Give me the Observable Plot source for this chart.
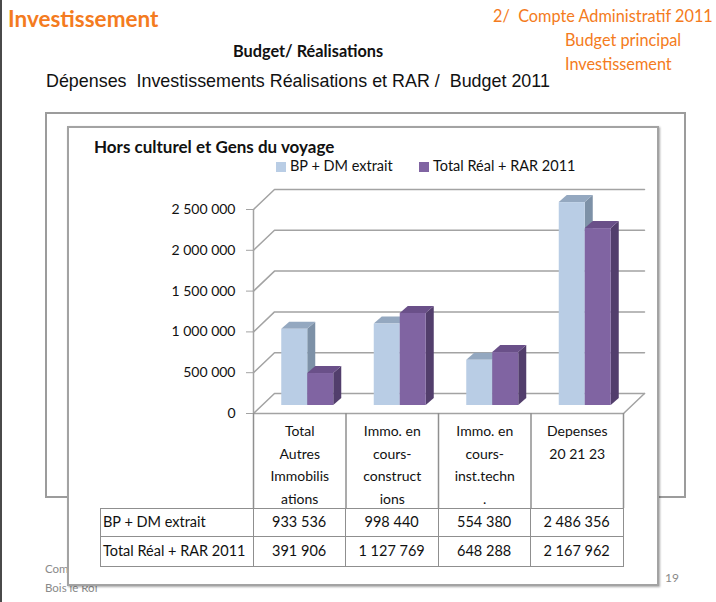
<!DOCTYPE html>
<html><head><meta charset="utf-8">
<script src="https://cdn.jsdelivr.net/npm/d3@7"></script>
<script src="https://cdn.jsdelivr.net/npm/@observablehq/plot@0.6"></script>
<style>
html,body{margin:0;padding:0;}
body{width:716px;height:602px;position:relative;overflow:hidden;background:#fff;font-family:Lato,"Open Sans",sans-serif;}
.abs{position:absolute;white-space:nowrap;line-height:1;}
.orange{color:#F47B20;}
.cell{position:absolute;box-sizing:border-box;border-right:1.5px solid #8f8f8f;border-bottom:1.5px solid #8f8f8f;font-size:14.5px;display:flex;align-items:center;justify-content:center;color:#111;}
.cell.head{justify-content:flex-start;padding-left:3px;}
</style></head><body>
<div class="abs" style="left:0;top:0;width:2px;height:602px;background:#4a4a4a"></div>
<div class="abs orange" style="left:8px;top:8px;font-size:22.5px;font-weight:700;">Investissement</div>
<div class="abs orange" style="left:493px;top:8px;font-size:16.3px;">2/&nbsp; Compte Administratif 2011</div>
<div class="abs orange" style="left:565px;top:32px;font-size:16.3px;">Budget principal</div>
<div class="abs orange" style="left:565px;top:56px;font-size:16.3px;">Investissement</div>
<div class="abs" style="left:233px;top:43px;font-size:16.3px;font-weight:700;color:#111;">Budget/ Réalisations</div>
<div class="abs" style="left:46px;top:73px;font-size:17.9px;font-family:'Liberation Sans',Arial,sans-serif;color:#111;">Dépenses&nbsp; Investissements Réalisations et RAR /&nbsp; Budget 2011</div>
<div class="abs" style="left:45px;top:112px;width:641px;height:386px;box-sizing:border-box;border:2px solid #9c9c9c;"></div>
<div class="abs" style="left:45px;top:563px;font-size:11.5px;color:#8a8a8a;">Compte Administratif 2011</div>
<div class="abs" style="left:45px;top:582px;font-size:11.5px;color:#8a8a8a;">Bois le Roi</div>
<div class="abs" style="left:665px;top:572px;font-size:12px;color:#8a8a8a;">19</div>
<div class="abs" style="left:67px;top:126px;width:592px;height:460px;box-sizing:border-box;border:2px solid #a3a3a3;background:#fff;box-shadow:1px 1px 2px rgba(0,0,0,0.35);"></div>
<div class="abs" style="left:94px;top:138px;font-size:17px;font-weight:700;color:#111;">Hors culturel et Gens du voyage</div>
<div id="legend"></div>
<div id="chart" class="abs" style="left:67px;top:180px;"></div>
<div id="table"></div>
<script>
// ---- data ----
const categories = ["Total\nAutres\nImmobilis\nations", "Immo. en\ncours-\nconstruct\nions", "Immo. en\ncours-\ninst.techn\n.", "Depenses\n20 21 23"];
const seriesNames = ["BP + DM extrait", "Total Réal + RAR 2011"];
const bpDm = [933536, 998440, 554380, 2486356];
const totalReal = [391906, 1127769, 648288, 2167962];
const yTicks = [0, 500000, 1000000, 1500000, 2000000, 2500000];

// ---- styles ----
const colors = [
  {front: "#B9CDE5", top: "#94A8C0", side: "#7D91A7"},
  {front: "#8064A2", top: "#6A5089", side: "#523E6C"}
];
const gridColor = "#a3a3a3";

// ---- layout ----
const svgLeft = 67, svgTop = 180;
const W = 592, H = 328, mL = 186, mR = 36, mT = 29, mB = 95;
const yMax = 2500000;
const pxX = (W - mL - mR) / categories.length;
const pxY = (H - mT - mB) / yMax;
const ux = px => px / pxX;
const uy = px => px / pxY;
const wall = {dx: ux(21), dy: uy(20)};
const depth = {dx: ux(8), dy: uy(7)};
const barW = ux(26);
const fmt = v => d3.format(",")(v).replace(/,/g, " ");

const series = [bpDm, totalReal];
const marks = [];

// back wall gridlines
const grid = [];
yTicks.forEach(t => {
  grid.push({t, x: 0, y: t});
  grid.push({t, x: wall.dx, y: t + wall.dy});
  grid.push({t, x: categories.length + wall.dx, y: t + wall.dy});
});
marks.push(Plot.line(grid, {x: "x", y: "y", z: "t", stroke: gridColor, strokeWidth: 1.5}));
marks.push(Plot.line([{x: categories.length, y: 0}, {x: categories.length + wall.dx, y: wall.dy}], {x: "x", y: "y", stroke: gridColor, strokeWidth: 1.5}));

// bars
series.forEach((s, j) => {
  const bars = s.map((v, i) => {
    const x0 = i + 0.5 - barW + j * barW;
    return {key: `${i}-${j}`, x0, x1: x0 + barW, v};
  });
  const side = bars.flatMap(b => [
    {key: b.key, x: b.x1, y1: 0, y2: b.v},
    {key: b.key, x: b.x1 + depth.dx, y1: depth.dy, y2: b.v + depth.dy}
  ]);
  const top = bars.flatMap(b => [
    {key: b.key, y: b.v, x1: b.x0, x2: b.x1},
    {key: b.key, y: b.v + depth.dy, x1: b.x0 + depth.dx, x2: b.x1 + depth.dx}
  ]);
  const off = {dx: 8, dy: -8};
  marks.push(Plot.areaY(side, {x: "x", y1: "y1", y2: "y2", z: "key", fill: colors[j].side, ...off}));
  marks.push(Plot.areaX(top, {y: "y", x1: "x1", x2: "x2", z: "key", fill: colors[j].top, ...off}));
  marks.push(Plot.rect(bars, {x1: "x0", x2: "x1", y1: 0, y2: "v", fill: colors[j].front, ...off}));
});

// front axis and floor front edge, column separators
marks.push(Plot.ruleX([0], {y1: 0, y2: yMax, stroke: gridColor, strokeWidth: 1.5}));
marks.push(Plot.ruleY([0], {x1: 0, x2: categories.length, stroke: gridColor, strokeWidth: 1.5}));
marks.push(Plot.ruleX(d3.range(categories.length + 1), {x: d => d, y1: 0, y2: -uy(mB), stroke: "#8f8f8f", strokeWidth: 1.5}));

marks.push(Plot.axisY({ticks: yTicks, tickFormat: fmt, tickSize: 7, tickPadding: 11, stroke: gridColor, fill: "#111", fontSize: 14, label: null}));
marks.push(Plot.axisX({ticks: categories.map((c, i) => i + 0.5), tickFormat: d => categories[Math.floor(d)], tickSize: 0, tickPadding: 7, fill: "#111", fontSize: 14, lineHeight: 1.6, label: null}));

const chart = Plot.plot({
  width: W, height: H,
  marginLeft: mL, marginRight: mR, marginTop: mT, marginBottom: mB,
  x: {type: "linear", domain: [0, categories.length], axis: null},
  y: {type: "linear", domain: [0, yMax], axis: null},
  style: {fontFamily: "Lato, 'Open Sans', sans-serif", fontSize: "14px", background: "transparent", overflow: "visible", color: "#111"},
  marks
});
document.getElementById("chart").appendChild(chart);

// legend
const legend = document.getElementById("legend");
const legendX = [276, 419];
seriesNames.forEach((name, j) => {
  const sw = document.createElement("div");
  sw.className = "abs";
  sw.style.cssText = `left:${legendX[j]}px;top:162px;width:10px;height:10px;background:${colors[j].front};`;
  legend.appendChild(sw);
  const t = document.createElement("div");
  t.className = "abs";
  t.style.cssText = `left:${legendX[j] + 14}px;top:159px;font-size:14.5px;color:#111;`;
  t.textContent = name;
  legend.appendChild(t);
});

// data table
const table = document.getElementById("table");
const tLeft = 100, tTop = svgTop + H, rowH = [28, 30];
const colX = [tLeft].concat(d3.range(categories.length + 1).map(i => svgLeft + mL + i * pxX));
const box = document.createElement("div");
box.className = "abs";
box.style.cssText = `left:${tLeft}px;top:${tTop}px;width:${colX[colX.length-1]-tLeft}px;height:${rowH[0]+rowH[1]}px;box-sizing:border-box;border-left:1.5px solid #8f8f8f;border-top:1.5px solid #8f8f8f;`;
table.appendChild(box);
series.forEach((s, r) => {
  const y = tTop + (r ? rowH[0] : 0);
  const cells = [seriesNames[r]].concat(s.map(fmt));
  cells.forEach((txt, c) => {
    const d = document.createElement("div");
    d.className = "cell" + (c === 0 ? " head" : "");
    d.style.left = colX[c] + "px";
    d.style.top = y + "px";
    d.style.width = (colX[c + 1] - colX[c] + 0.75) + "px";
    d.style.height = (rowH[r] + 0.75) + "px";
    d.textContent = txt;
    table.appendChild(d);
  });
});
</script>
</body></html>
